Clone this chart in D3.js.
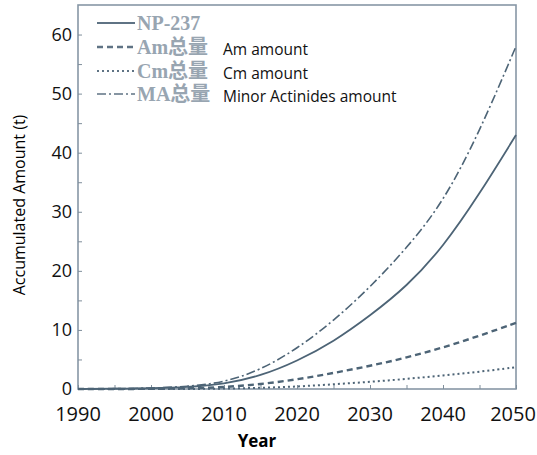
<!doctype html>
<html lang="en">
<head>
<meta charset="utf-8">
<title>Accumulated minor actinides</title>
<script src="https://cdnjs.cloudflare.com/ajax/libs/d3/7.8.5/d3.min.js"></script>
<style>
  body { margin:0; background:#fff; }
  .tick-label { font-family: "Open Sans", Lato, sans-serif; font-size:18px; fill:#111; }
  .legend-cn { font-family: "Liberation Serif", "Noto Sans CJK SC", serif; font-size:20px; font-weight:bold; fill:#98a5b1; }
  .legend-en { font-family: "Open Sans", Lato, sans-serif; font-size:15.5px; fill:#111; }
</style>
</head>
<body>
<svg width="537" height="455"></svg>
<script>
// data (tonnes)
const years = [1990, 1995, 2000, 2005, 2010, 2015, 2020, 2025, 2030, 2035, 2040, 2045, 2050];
const np237 = [0, 0.05, 0.1, 0.3, 0.8, 2.2, 4.7, 8.0, 12.4, 17.3, 24, 33, 43];
const amTotal = [0, 0, 0.02, 0.1, 0.3, 0.8, 1.6, 2.7, 3.9, 5.3, 7, 9, 11.2];
const cmTotal = [0, 0, 0, 0, 0.05, 0.2, 0.4, 0.8, 1.2, 1.7, 2.3, 2.9, 3.7];
const maTotal = [0, 0.05, 0.15, 0.4, 1.1, 3.2, 6.8, 11.5, 17.2, 23.8, 31.5, 43.5, 58];
const xTicks = [1990, 2000, 2010, 2020, 2030, 2040, 2050];
const yTicks = [0, 10, 20, 30, 40, 50, 60];
const legendNames = ["NP-237", "Am总量", "Cm总量", "MA总量"];
const legendEnglish = ["", "Am amount", "Cm amount", "Minor Actinides amount"];

const svg = d3.select("svg");
const plotLeft = 78, plotRight = 516, plotTop = 5, plotBottom = 389;
const lineColor = "#4d6476";

const x = d3.scaleLinear().domain([1990, 2050]).range([plotLeft, plotRight]);
const y = d3.scaleLinear().domain([0, 65]).range([plotBottom, plotTop]);

// frame
svg.append("rect")
  .attr("x", plotLeft).attr("y", plotTop)
  .attr("width", plotRight - plotLeft).attr("height", plotBottom - plotTop)
  .attr("fill", "none").attr("stroke", "#8797a6").attr("stroke-width", 1.6);

// inward ticks
const yAxis = d3.axisRight(y).tickValues(d3.range(0, 65, 5)).tickSize(4).tickFormat("");
svg.append("g").attr("transform", `translate(${plotLeft},0)`).call(yAxis)
  .call(g => g.select(".domain").remove())
  .selectAll("line").attr("stroke", "#7f8e9b");
const xAxis = d3.axisTop(x).tickValues(d3.range(1990, 2051, 5)).tickSize(4).tickFormat("");
svg.append("g").attr("transform", `translate(0,${plotBottom})`).call(xAxis)
  .call(g => g.select(".domain").remove())
  .selectAll("line").attr("stroke", "#7f8e9b");

// tick labels
svg.append("g").selectAll("text").data(yTicks).join("text")
  .attr("class", "tick-label")
  .attr("x", plotLeft - 6).attr("y", d => y(d)).attr("dy", "0.35em")
  .attr("text-anchor", "end").text(d => d);
svg.append("g").selectAll("text").data(xTicks).join("text")
  .attr("class", "tick-label")
  .attr("x", d => x(d) - (d === 2050 ? 3 : 0)).attr("y", 421)
  .attr("text-anchor", "middle").style("font-size", "20px").text(d => d);

// axis titles
svg.append("text")
  .attr("transform", "translate(25,205) rotate(-90)")
  .attr("text-anchor", "middle")
  .style("font-family", "'Open Sans', Lato, sans-serif").style("font-size", "16px")
  .text("Accumulated Amount (t)");
svg.append("text")
  .attr("x", 257).attr("y", 447).attr("text-anchor", "middle")
  .style("font-family", "'Open Sans', Lato, sans-serif").style("font-size", "17px").style("font-weight", "bold")
  .text("Year");

// series
const series = [
  { vals: np237, dash: null, w: 1.8 },
  { vals: amTotal, dash: "6,4", w: 2.4 },
  { vals: cmTotal, dash: "2,3", w: 2 },
  { vals: maTotal, dash: "9,3,2,3", w: 1.6 }
];
const line = d3.line().x(d => x(d[0])).y(d => y(d[1])).curve(d3.curveBasis);
series.forEach(s => {
  svg.append("path")
    .datum(years.map((yr, i) => [yr, s.vals[i]]))
    .attr("d", line)
    .attr("fill", "none").attr("stroke", lineColor)
    .attr("stroke-width", s.w)
    .attr("stroke-dasharray", s.dash);
});

// legend
const legY = [23, 47, 71, 94];
const lg = svg.append("g");
series.forEach((s, i) => {
  lg.append("line")
    .attr("x1", 97).attr("x2", 135).attr("y1", legY[i]).attr("y2", legY[i])
    .attr("stroke", "#5f7384").attr("stroke-width", s.w)
    .attr("stroke-dasharray", s.dash);
  lg.append("text").attr("class", "legend-cn")
    .attr("x", 137).attr("y", legY[i] + 7).text(legendNames[i]);
  if (legendEnglish[i]) {
    lg.append("text").attr("class", "legend-en")
      .attr("x", 223).attr("y", legY[i] + 8).text(legendEnglish[i]);
  }
});
</script>
</body>
</html>
